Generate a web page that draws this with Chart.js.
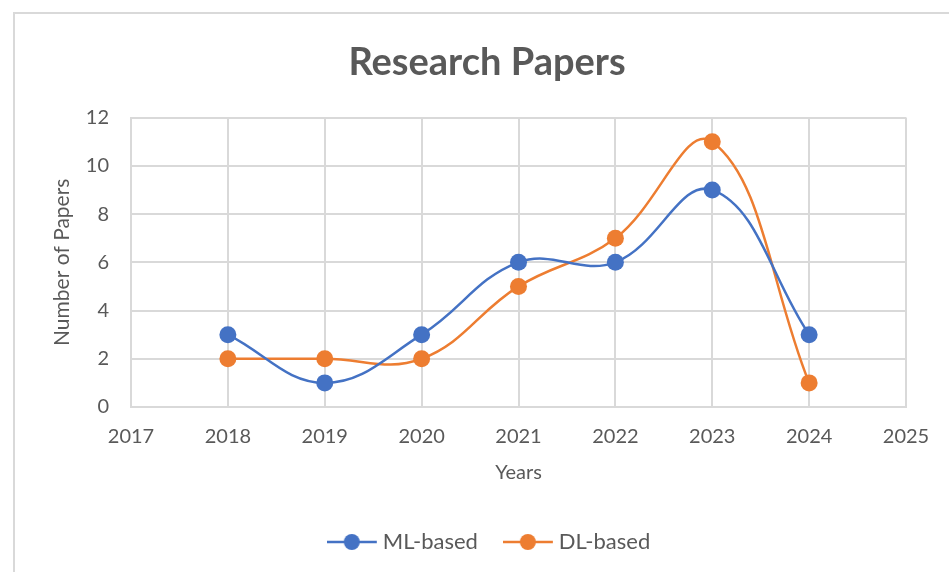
<!DOCTYPE html>
<html>
<head>
<meta charset="utf-8">
<script src="https://cdn.jsdelivr.net/npm/chart.js@4.4.1/dist/chart.umd.min.js"></script>
<style>
  html, body { margin: 0; padding: 0; background: #fff; }
  #wrap { position: relative; width: 949px; height: 572px; }
</style>
</head>
<body>
<div id="wrap"><canvas id="chart" width="949" height="572"></canvas></div>
<script>
// data
const years = [2018, 2019, 2020, 2021, 2022, 2023, 2024];
const mlBased = [3, 1, 3, 6, 6, 9, 3];
const dlBased = [2, 2, 2, 5, 7, 11, 1];
const seriesNames = ['ML-based', 'DL-based'];

const blue = '#4472C4';
const orange = '#ED7D31';
const textColor = '#595959';
const fontFamily = 'Lato, "Open Sans", sans-serif';

// legend marker: short line with a dot, drawn off-centre so the text sits close to it
function legendIcon(color) {
  const c = document.createElement('canvas');
  c.width = 60;
  c.height = 18;
  const g = c.getContext('2d');
  g.strokeStyle = color;
  g.lineWidth = 2.5;
  g.beginPath();
  g.moveTo(0, 9);
  g.lineTo(50, 9);
  g.stroke();
  g.fillStyle = color;
  g.beginPath();
  g.arc(25, 9, 8, 0, Math.PI * 2);
  g.fill();
  return c;
}

// light frame around the chart, as in the screenshot
const framePlugin = {
  id: 'frame',
  beforeDraw(chart) {
    const ctx = chart.ctx;
    ctx.save();
    ctx.strokeStyle = '#d9d9d9';
    ctx.lineWidth = 2;
    ctx.strokeRect(14, 13, 960, 600);
    ctx.restore();
  }
};

// nudge title and legend a little to the right, like the original
const nudgePlugin = {
  id: 'nudge',
  afterLayout(chart) {
    chart.legend.left += 18;
    chart.legend.right += 18;
    chart.titleBlock.left += 9;
    chart.titleBlock.right += 9;
  }
};

const toPoints = vals => vals.map((v, i) => ({ x: years[i], y: v }));

const ctx = document.getElementById('chart').getContext('2d');
new Chart(ctx, {
  type: 'line',
  data: {
    datasets: [{
      label: seriesNames[0],
      data: toPoints(mlBased),
      borderColor: blue,
      backgroundColor: blue,
      borderWidth: 2.5,
      pointRadius: 8.5,
      pointHoverRadius: 8.5,
      pointBorderWidth: 0,
      tension: 0.4
    }, {
      label: seriesNames[1],
      data: toPoints(dlBased),
      borderColor: orange,
      backgroundColor: orange,
      borderWidth: 2.5,
      pointRadius: 8.5,
      pointHoverRadius: 8.5,
      pointBorderWidth: 0,
      tension: 0.4
    }]
  },
  options: {
    responsive: false,
    animation: false,
    layout: { padding: { top: 40, left: 50, right: 43, bottom: 9 } },
    plugins: {
      title: {
        display: true,
        text: 'Research Papers',
        color: textColor,
        font: { family: fontFamily, size: 38, weight: 'bold' },
        padding: { top: 0, bottom: 32 }
      },
      legend: {
        position: 'bottom',
        labels: {
          color: textColor,
          font: { family: fontFamily, size: 22 },
          padding: 40,
          boxWidth: 30,
          usePointStyle: true,
          pointStyleWidth: 30,
          generateLabels(chart) {
            return chart.data.datasets.map((ds, i) => ({
              text: ds.label,
              pointStyle: legendIcon(ds.borderColor),
              fontColor: textColor,
              strokeStyle: ds.borderColor,
              fillStyle: ds.borderColor,
              lineWidth: 0,
              datasetIndex: i
            }));
          }
        }
      },
      tooltip: { enabled: false }
    },
    scales: {
      x: {
        type: 'linear',
        min: 2017,
        max: 2025,
        afterFit: scale => { scale.height = 84; },
        ticks: {
          stepSize: 1,
          color: textColor,
          font: { family: fontFamily, size: 20 },
          padding: 18,
          callback: v => String(v)
        },
        grid: { color: '#d9d9d9', lineWidth: 2, drawTicks: false },
        border: { color: '#d9d9d9', width: 2 },
        title: {
          display: true,
          text: 'Years',
          color: textColor,
          font: { family: fontFamily, size: 20 },
          padding: { top: 0, bottom: 6 }
        }
      },
      y: {
        min: 0,
        max: 12,
        afterFit: scale => { scale.width = 81; },
        ticks: {
          stepSize: 2,
          color: textColor,
          font: { family: fontFamily, size: 20 },
          padding: 22
        },
        grid: { color: '#d9d9d9', lineWidth: 2, drawTicks: false },
        border: { color: '#d9d9d9', width: 2 },
        title: {
          display: true,
          text: 'Number of Papers',
          color: textColor,
          font: { family: fontFamily, size: 21 },
          padding: { top: 0, bottom: 0 }
        }
      }
    }
  },
  plugins: [framePlugin, nudgePlugin]
});
</script>
</body>
</html>
